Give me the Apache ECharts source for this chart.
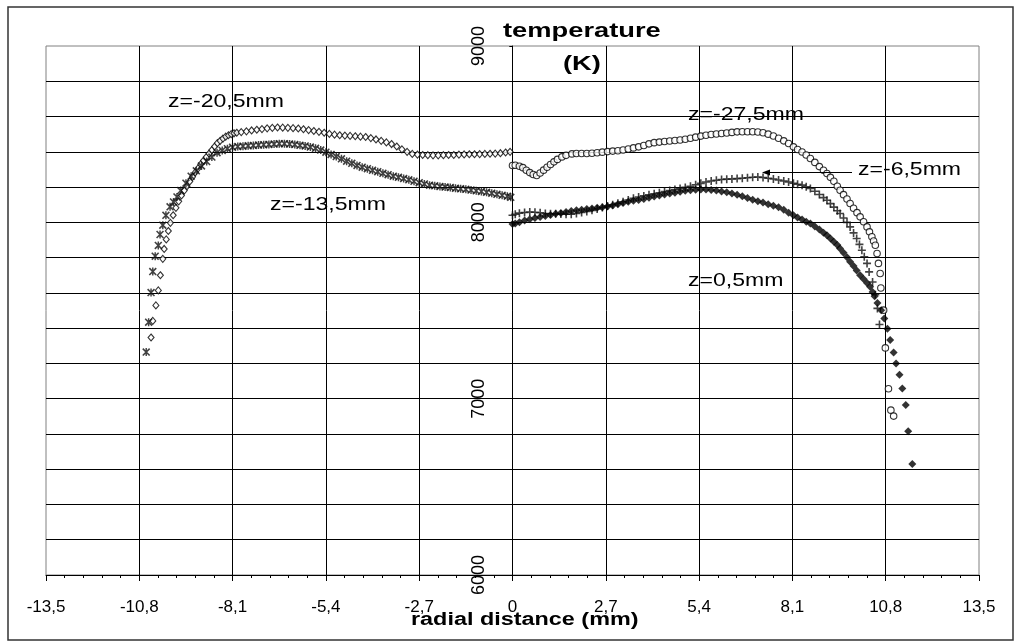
<!DOCTYPE html>
<html>
<head>
<meta charset="utf-8">
<script src="https://cdn.jsdelivr.net/npm/echarts@6/dist/echarts.min.js"></script>
<style>
  html, body { margin: 0; padding: 0; background: #fff; }
  #main { width: 1022px; height: 643px; }
</style>
</head>
<body>
<div id="main"></div>
<script>
// radial distance (mm), temperature (K)
const zMinus20_5 = [
  [-10.46,7347],[-10.41,7441],[-10.32,7529],[-10.25,7614],[-10.19,7700],[-10.12,7793],[-10.08,7849],
  [-10.02,7903],[-9.96,7951],[-9.90,7997],[-9.82,8040],[-9.74,8082],[-9.66,8119],[-9.58,8152],
  [-9.50,8180],[-9.42,8205],[-9.34,8232],[-9.26,8258],[-9.18,8283],[-9.10,8306],[-9.02,8330],
  [-8.94,8350],[-8.86,8370],[-8.78,8390],[-8.70,8410],[-8.62,8430],[-8.54,8449],[-8.46,8462],
  [-8.38,8475],[-8.30,8486],[-8.22,8494],[-8.14,8500],[-8.06,8505],[-7.98,8508],[-7.85,8512],
  [-7.70,8516],[-7.55,8521],[-7.40,8525],[-7.25,8529],[-7.10,8533],[-6.95,8536],[-6.80,8538],
  [-6.65,8537],[-6.50,8536],[-6.35,8534],[-6.20,8532],[-6.05,8528],[-5.90,8523],[-5.75,8518],
  [-5.60,8513],[-5.45,8508],[-5.30,8502],[-5.15,8497],[-5.00,8494],[-4.85,8492],[-4.70,8490],
  [-4.55,8488],[-4.40,8486],[-4.25,8484],[-4.10,8478],[-3.95,8470],[-3.80,8462],[-3.65,8453],
  [-3.50,8444],[-3.35,8430],[-3.20,8414],[-3.05,8400],[-2.90,8388],[-2.75,8384],[-2.60,8382],
  [-2.45,8381],[-2.30,8380],[-2.15,8380],[-2.00,8381],[-1.85,8382],[-1.70,8382],[-1.55,8384],
  [-1.40,8385],[-1.25,8386],[-1.10,8386],[-0.95,8387],[-0.80,8388],[-0.65,8389],[-0.50,8390],
  [-0.35,8392],[-0.20,8396],[-0.07,8400]
];
const zMinus13_5 = [
  [-10.60,7264],[-10.53,7434],[-10.46,7602],[-10.41,7721],[-10.34,7808],[-10.25,7869],[-10.20,7931],
  [-10.12,7984],[-10.03,8040],[-9.91,8088],[-9.81,8116],[-9.71,8144],[-9.60,8180],[-9.45,8222],
  [-9.30,8262],[-9.15,8292],[-9.00,8320],[-8.85,8345],[-8.70,8370],[-8.55,8395],[-8.40,8408],
  [-8.25,8418],[-8.10,8426],[-7.95,8430],[-7.80,8432],[-7.65,8434],[-7.50,8436],[-7.35,8438],
  [-7.20,8440],[-7.05,8442],[-6.90,8444],[-6.75,8446],[-6.60,8446],[-6.45,8444],[-6.30,8441],
  [-6.15,8437],[-6.00,8433],[-5.85,8427],[-5.70,8420],[-5.55,8410],[-5.40,8398],[-5.25,8385],
  [-5.10,8373],[-4.95,8360],[-4.80,8347],[-4.65,8335],[-4.50,8323],[-4.35,8313],[-4.20,8304],
  [-4.05,8295],[-3.90,8287],[-3.75,8278],[-3.60,8270],[-3.45,8262],[-3.30,8255],[-3.15,8248],
  [-3.00,8241],[-2.85,8233],[-2.70,8225],[-2.55,8218],[-2.40,8211],[-2.25,8207],[-2.10,8203],
  [-1.95,8200],[-1.80,8197],[-1.65,8193],[-1.50,8190],[-1.35,8187],[-1.20,8183],[-1.05,8179],
  [-0.90,8175],[-0.75,8170],[-0.60,8165],[-0.45,8159],[-0.30,8153],[-0.15,8148],[-0.05,8142]
];
const zMinus27_5 = [
  [0.00,8322],[0.08,8324],[0.20,8318],[0.30,8310],[0.40,8295],[0.50,8282],[0.60,8271],[0.70,8266],
  [0.80,8280],[0.90,8296],[1.00,8312],[1.10,8328],[1.20,8343],[1.30,8357],[1.43,8371],[1.55,8380],
  [1.72,8388],[1.85,8390],[2.00,8390],[2.15,8390],[2.30,8392],[2.45,8395],[2.60,8398],[2.75,8401],
  [2.90,8404],[3.05,8406],[3.20,8410],[3.35,8416],[3.50,8422],[3.65,8428],[3.80,8436],[3.95,8445],
  [4.10,8452],[4.25,8455],[4.40,8458],[4.55,8461],[4.70,8464],[4.85,8467],[5.00,8471],[5.15,8477],
  [5.30,8483],[5.45,8489],[5.60,8494],[5.75,8498],[5.90,8501],[6.05,8504],[6.20,8507],[6.35,8510],
  [6.50,8513],[6.65,8514],[6.80,8514],[6.95,8514],[7.10,8512],[7.25,8508],[7.40,8500],[7.55,8490],
  [7.70,8477],[7.85,8462],[7.99,8447],[8.13,8428],[8.25,8413],[8.38,8399],[8.50,8382],[8.62,8362],
  [8.75,8340],[8.88,8316],[9.00,8295],[9.10,8277],[9.20,8255],[9.30,8233],[9.40,8205],[9.48,8182],
  [9.58,8157],[9.68,8132],[9.77,8107],[9.87,8080],[9.97,8055],[10.06,8031],[10.16,8003],[10.26,7974],
  [10.33,7946],[10.40,7918],[10.45,7894],[10.50,7870],[10.55,7823],[10.59,7767],[10.64,7710],
  [10.66,7628],[10.74,7502],[10.79,7288],[10.88,7056],[10.95,6935],[11.03,6901]
];
const zMinus6_5 = [
  [0.00,8040],[0.08,8046],[0.20,8052],[0.35,8056],[0.50,8059],[0.65,8057],[0.80,8054],[0.95,8050],
  [1.10,8049],[1.25,8048],[1.40,8047],[1.55,8046],[1.70,8046],[1.85,8050],[2.00,8056],[2.15,8062],
  [2.30,8068],[2.45,8076],[2.60,8084],[2.75,8092],[2.90,8100],[3.05,8108],[3.20,8117],[3.35,8127],
  [3.50,8136],[3.65,8144],[3.80,8150],[3.95,8156],[4.10,8162],[4.25,8168],[4.40,8174],[4.55,8180],
  [4.70,8186],[4.85,8192],[5.00,8198],[5.15,8205],[5.30,8213],[5.45,8221],[5.60,8229],[5.75,8234],
  [5.90,8239],[6.05,8243],[6.20,8245],[6.35,8246],[6.50,8248],[6.65,8250],[6.80,8253],[6.95,8256],
  [7.10,8257],[7.25,8254],[7.40,8250],[7.55,8246],[7.70,8240],[7.85,8234],[7.99,8229],[8.13,8222],
  [8.25,8216],[8.38,8211],[8.50,8202],[8.62,8192],[8.75,8176],[8.88,8158],[9.00,8140],[9.10,8125],
  [9.20,8106],[9.30,8086],[9.40,8066],[9.48,8050],[9.58,8025],[9.68,8000],[9.77,7974],[9.87,7940],
  [9.96,7908],[10.04,7875],[10.11,7842],[10.18,7805],[10.26,7767],[10.32,7719],[10.42,7662],
  [10.50,7590],[10.56,7512],[10.62,7421]
];
const zPlus0_5 = [
  [0.00,7990],[0.08,7993],[0.20,8000],[0.35,8010],[0.50,8018],[0.65,8025],[0.80,8030],[0.95,8036],
  [1.10,8042],[1.25,8048],[1.40,8053],[1.55,8058],[1.70,8064],[1.85,8068],[2.00,8071],[2.15,8075],
  [2.30,8078],[2.45,8082],[2.60,8086],[2.75,8090],[2.90,8096],[3.05,8103],[3.20,8110],[3.35,8117],
  [3.50,8122],[3.65,8127],[3.80,8133],[3.95,8139],[4.10,8146],[4.25,8152],[4.40,8158],[4.55,8163],
  [4.70,8168],[4.85,8174],[5.00,8179],[5.15,8182],[5.30,8185],[5.45,8186],[5.60,8186],[5.75,8184],
  [5.90,8180],[6.05,8175],[6.20,8170],[6.35,8164],[6.50,8157],[6.65,8148],[6.80,8138],[6.95,8128],
  [7.10,8119],[7.25,8112],[7.40,8103],[7.55,8094],[7.70,8085],[7.85,8071],[7.99,8055],[8.13,8040],
  [8.25,8028],[8.38,8016],[8.50,8004],[8.62,7993],[8.75,7977],[8.88,7959],[9.00,7941],[9.10,7927],
  [9.20,7908],[9.30,7890],[9.40,7872],[9.48,7852],[9.58,7827],[9.68,7802],[9.77,7776],[9.87,7752],
  [9.96,7727],[10.06,7700],[10.16,7678],[10.26,7656],[10.35,7634],[10.42,7605],[10.48,7581],
  [10.56,7543],[10.67,7502],[10.76,7455],[10.85,7396],[10.93,7332],[11.03,7262],[11.10,7200],
  [11.20,7135],[11.28,7058],[11.38,6964],[11.45,6815],[11.57,6629]
];

const xName = 'radial distance (mm)';
const yName = ['temperature', '(K)'];
const curveLabels = ['z=-20,5mm', 'z=-13,5mm', 'z=-27,5mm', 'z=-6,5mm', 'z=0,5mm'];

// marker shapes like the spreadsheet ones
const plusPath = 'path://M4,0h2v10h-2z M0,4h10v2h-10z';
const starPath = 'path://M0,1.4L1.4,0L10,8.6L8.6,10Z M8.6,0L10,1.4L1.4,10L0,8.6Z M4.1,0h1.8v10h-1.8z';

const chart = echarts.init(document.getElementById('main'));

function fmtX(v) {
  if (Math.abs(v) < 1e-9) return '0';
  return v.toFixed(1).replace('.', ',');
}

// annotation texts, stretched a bit like the source picture
function note(text, x, y) {
  return {
    type: 'text', x: x, y: y, scaleX: 1.28, z: 100,
    style: { text: text, font: '18px Arial, "Liberation Sans"', fill: '#000',
      align: 'left', verticalAlign: 'middle', textAlign: 'left', textVerticalAlign: 'middle' }
  };
}
function boldNote(text, x, y, size) {
  return {
    type: 'text', x: x, y: y, scaleX: 1.3, z: 100,
    style: { text: text, font: 'bold ' + size + 'px Arial, "Liberation Sans"', fill: '#000',
      align: 'left', verticalAlign: 'middle', textAlign: 'left', textVerticalAlign: 'middle' }
  };
}

chart.setOption({
  animation: false,
  backgroundColor: '#fff',
  grid: {
    left: 46, right: 43, top: 46, bottom: 68,
    show: true, borderColor: '#808080', borderWidth: 1, backgroundColor: '#fff'
  },
  xAxis: {
    type: 'value', min: -13.5, max: 13.5, interval: 2.7,
    axisLine: { onZero: false, lineStyle: { color: '#000', width: 1 } },
    axisTick: { show: true, length: 6, lineStyle: { color: '#000' } },
    minorTick: { show: true, splitNumber: 5, length: 3, lineStyle: { color: '#000' } },
    axisLabel: { formatter: fmtX, color: '#000', fontSize: 17, fontFamily: 'Arial, "Liberation Sans"', margin: 24 },
    splitLine: { show: true, showMinLine: false, showMaxLine: false, lineStyle: { color: '#000', width: 1 } }
  },
  yAxis: {
    type: 'value', min: 6000, max: 9000, interval: 200,
    // the value axis sits on radial distance 0, in the middle of the plot
    offset: -466.3,
    axisLine: { onZero: false, lineStyle: { color: '#000', width: 1 } },
    axisTick: { show: true, length: 3, lineStyle: { color: '#000' } },
    axisLabel: {
      rotate: 90, margin: 24, color: '#000', fontSize: 18, fontFamily: 'Arial, "Liberation Sans"',
      showMaxLabel: true, showMinLabel: true,
      formatter: v => (v % 1000 === 0 ? String(v) : '')
    },
    splitLine: { show: true, showMaxLine: false, lineStyle: { color: '#000', width: 1 } }
  },
  series: [
    {
      name: curveLabels[0], type: 'scatter', data: zMinus20_5,
      symbol: 'diamond', symbolSize: [6, 7],
      itemStyle: { color: '#fff', borderColor: '#000', borderWidth: 1.1 }
    },
    {
      name: curveLabels[1], type: 'scatter', data: zMinus13_5,
      symbol: starPath, symbolSize: 8,
      itemStyle: { color: '#111' }
    },
    {
      name: curveLabels[2], type: 'scatter', data: zMinus27_5,
      symbol: 'circle', symbolSize: 6.5,
      itemStyle: { color: '#fff', borderColor: '#000', borderWidth: 1.1 }
    },
    {
      name: curveLabels[3], type: 'scatter', data: zMinus6_5,
      symbol: plusPath, symbolSize: 8,
      itemStyle: { color: '#111' }
    },
    {
      name: curveLabels[4], type: 'scatter', data: zPlus0_5,
      symbol: 'diamond', symbolSize: 8,
      itemStyle: { color: '#000' }
    }
  ],
  graphic: [
    {
      type: 'rect', shape: { x: 8, y: 7, width: 1005, height: 633 },
      style: { fill: 'none', stroke: '#333', lineWidth: 1.5 }, z: 100, silent: true
    },
    boldNote(yName[0], 503, 31, 21),
    boldNote(yName[1], 563, 64, 21),
    boldNote(xName, 411, 620, 18),
    note(curveLabels[0], 168, 102),
    note(curveLabels[1], 270, 205),
    note(curveLabels[2], 688, 115),
    note(curveLabels[3], 858, 170),
    note(curveLabels[4], 688, 281),
    {
      type: 'line', shape: { x1: 852, y1: 172.5, x2: 768, y2: 172.5 },
      style: { stroke: '#000', lineWidth: 1 }, z: 100
    },
    {
      type: 'polygon', shape: { points: [[762, 172.5], [770, 169.5], [770, 175.5]] },
      style: { fill: '#000' }, z: 100
    }
  ]
});
</script>
</body>
</html>
